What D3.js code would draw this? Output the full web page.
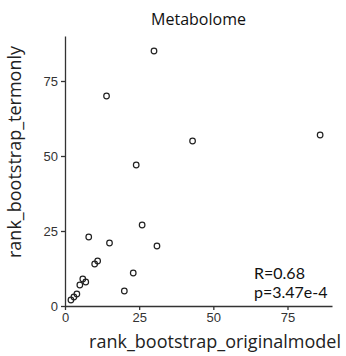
<!DOCTYPE html>
<html>
<head>
<meta charset="utf-8">
<script src="https://cdn.jsdelivr.net/npm/d3@7.9.0/dist/d3.min.js"></script>
<style>
  body { margin: 0; background: #fff; }
  svg { display: block; font-family: "Open Sans", sans-serif; }
  .axis path, .axis line { stroke: #333; stroke-width: 1.3; }
  .axis text { fill: #333; font-size: 13px; }
  .stats { font-family: Lato, "Open Sans", sans-serif; }
</style>
</head>
<body>
<svg id="chart" width="346" height="356"></svg>
<script>
// ranks
const originalRank = [2, 3, 4, 5, 6, 7, 10, 11, 8, 15, 26, 31, 23, 20, 24, 14, 30, 43, 86];
const termOnlyRank = [2, 3, 4, 7, 9, 8, 14, 15, 23, 21, 27, 20, 11, 5, 47, 70, 85, 55, 57];
const xTicks = [0, 25, 50, 75];
const yTicks = [0, 25, 50, 75];
const statsLines = ['R=0.68', 'p=3.47e-4'];

const svg = d3.select('#chart');
const margin = { left: 65, right: 14, top: 36, bottom: 50 };
const width = 346, height = 356;

const x = d3.scaleLinear().domain([0, 90]).range([margin.left, width - margin.right]);
const y = d3.scaleLinear().domain([0, 90]).range([height - margin.bottom, margin.top]);

svg.append('g')
  .attr('class', 'axis')
  .attr('transform', `translate(0,${y(0)})`)
  .call(d3.axisBottom(x).tickValues(xTicks).tickSize(4).tickSizeOuter(0));

svg.append('g')
  .attr('class', 'axis')
  .attr('transform', `translate(${x(0)},0)`)
  .call(d3.axisLeft(y).tickValues(yTicks).tickSize(4).tickSizeOuter(0));

svg.selectAll('circle')
  .data(originalRank.map((d, i) => [d, termOnlyRank[i]]))
  .join('circle')
  .attr('cx', (d) => x(d[0]))
  .attr('cy', (d) => y(d[1]))
  .attr('r', 2.8)
  .attr('fill', 'none')
  .attr('stroke', '#222')
  .attr('stroke-width', 1.2);

svg.append('text')
  .attr('x', (x.range()[0] + x.range()[1]) / 2)
  .attr('y', 25)
  .attr('text-anchor', 'middle')
  .attr('font-size', 16)
  .attr('fill', '#111')
  .text('Metabolome');

svg.append('text')
  .attr('x', 215)
  .attr('y', 348)
  .attr('text-anchor', 'middle')
  .attr('font-size', 18)
  .attr('fill', '#222')
  .text('rank_bootstrap_originalmodel');

svg.append('text')
  .attr('transform', 'translate(21,152) rotate(-90)')
  .attr('text-anchor', 'middle')
  .attr('font-size', 18)
  .attr('fill', '#222')
  .text('rank_bootstrap_termonly');

statsLines.forEach((s, i) => {
  svg.append('text')
    .attr('class', 'stats')
    .attr('x', 254)
    .attr('y', 278.5 + i * 19.5)
    .attr('font-size', 16)
    .attr('fill', '#111')
    .text(s);
});
</script>
</body>
</html>
